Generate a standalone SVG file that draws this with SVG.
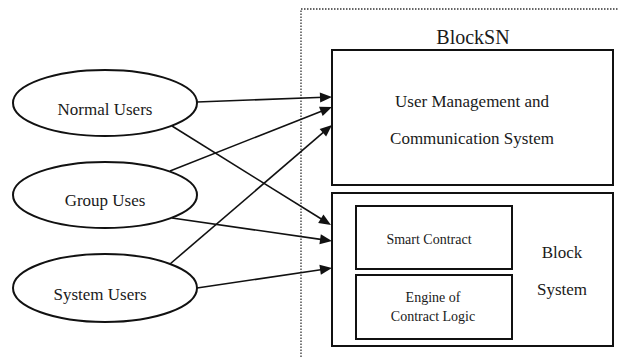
<svg xmlns="http://www.w3.org/2000/svg" width="619" height="357" viewBox="0 0 619 357">
<defs>
<path id="ah" d="M0,0 L-12,-5 L-12,5 z" fill="#111"/>
</defs>
<rect width="619" height="357" fill="#fff"/>
<path d="M301,357 V9 H619" fill="none" stroke="#333" stroke-width="1.3" stroke-dasharray="1.5,1.5"/>
<text x="473" y="44" font-family="Liberation Serif" font-size="20" text-anchor="middle" fill="#1a1a1a">BlockSN</text>
<g id="umcs">
<rect fill="#fff" stroke="#111" stroke-width="2" x="332" y="50" width="281" height="135"/>
<text font-family="Liberation Serif" font-size="17" text-anchor="middle" fill="#1a1a1a" x="472" y="107">User Management and</text>
<text font-family="Liberation Serif" font-size="17" text-anchor="middle" fill="#1a1a1a" x="472" y="144">Communication System</text>
</g>
<g id="block">
<rect fill="#fff" stroke="#111" stroke-width="2" x="332" y="193" width="281" height="153"/>
<text font-family="Liberation Serif" font-size="17" text-anchor="middle" fill="#1a1a1a" x="562" y="258">Block</text>
<text font-family="Liberation Serif" font-size="17" text-anchor="middle" fill="#1a1a1a" x="562" y="295">System</text>
</g>
<g id="smart">
<rect fill="#fff" stroke="#111" stroke-width="2" x="356" y="206" width="156" height="63"/>
<text font-family="Liberation Serif" font-size="14" text-anchor="middle" fill="#1a1a1a" x="429" y="244">Smart Contract</text>
</g>
<g id="engine">
<rect fill="#fff" stroke="#111" stroke-width="2" x="356" y="275" width="156" height="64"/>
<text font-family="Liberation Serif" font-size="14" text-anchor="middle" fill="#1a1a1a" x="433" y="302">Engine of</text>
<text font-family="Liberation Serif" font-size="14" text-anchor="middle" fill="#1a1a1a" x="433" y="321">Contract Logic</text>
</g>
<g id="normal">
<ellipse fill="#fff" stroke="#111" stroke-width="2" cx="105" cy="103" rx="92" ry="33"/>
<text font-family="Liberation Serif" font-size="17" text-anchor="middle" fill="#1a1a1a" x="105" y="115">Normal Users</text>
</g>
<g id="group">
<ellipse fill="#fff" stroke="#111" stroke-width="2" cx="105" cy="195" rx="92" ry="33"/>
<text font-family="Liberation Serif" font-size="17" text-anchor="middle" fill="#1a1a1a" x="105" y="206">Group Uses</text>
</g>
<g id="system">
<ellipse fill="#fff" stroke="#111" stroke-width="2" cx="105" cy="288" rx="92" ry="34"/>
<text font-family="Liberation Serif" font-size="17" text-anchor="middle" fill="#1a1a1a" x="100" y="300">System Users</text>
</g>
<g id="connectors" stroke="#111" stroke-width="1.6" fill="none">
<line x1="197" y1="102" x2="324" y2="97.3"/>
<line x1="170" y1="171" x2="324.6" y2="109.9"/>
<line x1="170" y1="264" x2="325.9" y2="130.2"/>
<line x1="172" y1="126" x2="324.2" y2="220.8"/>
<line x1="172" y1="218" x2="324.1" y2="239.9"/>
<line x1="197" y1="288" x2="324.1" y2="269.2"/>
<use href="#ah" stroke="none" transform="translate(332,97) rotate(-2.12)"/>
<use href="#ah" stroke="none" transform="translate(332,107) rotate(-21.56)"/>
<use href="#ah" stroke="none" transform="translate(332,125) rotate(-40.63)"/>
<use href="#ah" stroke="none" transform="translate(331,225) rotate(31.91)"/>
<use href="#ah" stroke="none" transform="translate(332,241) rotate(8.18)"/>
<use href="#ah" stroke="none" transform="translate(332,268) rotate(-8.43)"/>
</g>
</svg>
